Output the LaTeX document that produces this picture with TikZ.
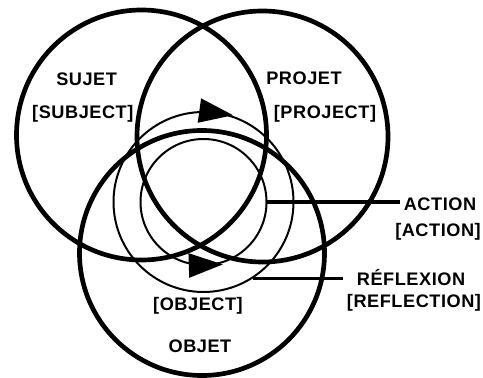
\documentclass[tikz,border=0pt]{standalone}
\usepackage{fontspec}
\usetikzlibrary{calc,decorations.markings}
\newfontfamily\cyclefont{Liberation Sans}[LetterSpace=3]
\tikzset{
  sphere/.style={
    circle,
    draw=black,
    line width=4pt,
    inner sep=0pt
  },
  ring/.style={
    circle,
    draw=black,
    line width=1.7pt,
    inner sep=0pt
  },
  ringtip/.style 2 args={
    postaction={decorate,decoration={markings,
      mark=at position #1 with {\fill[black]
        ({-0.5*#2},0.37) -- ({0.52*#2},0) -- ({-0.5*#2},-0.37) -- cycle;}}}
  },
  term/.style={
    font=\cyclefont\bfseries\fontsize{15.5}{18}\selectfont,
    text=black,
    inner sep=0.1cm,
    text height=0.39cm,
    text depth=0pt
  },
  leader/.style={
    draw=black,
    line width=2.8pt
  }
}

\begin{document}
\begin{tikzpicture}[x=1cm,y=1cm]
  \useasboundingbox (0,0) rectangle (14.49,11.31);
  \coordinate (S) at (4.245,7.26);
  \coordinate (P) at (7.875,7.215);
  \coordinate (O) at (6.06,3.72);
  \coordinate (C) at (6.105,5.25);

  % The three large circles overlap round one centre.
  \node[sphere,minimum size=7.5cm] (sujet) at (S) {};
  \node[sphere,minimum size=7.53cm] (projet) at (P) {};
  \node[sphere,minimum size=7.35cm] (objet) at (O) {};

  % Two concentric cycles, each with its own direction.
  \node[ring,minimum size=5.4cm,ringtip={0.228}{-1}] (reflexion-ring) at (C) {};
  \node[ring,minimum size=3.78cm,ringtip={0.755}{1}] (action-ring) at (C) {};

  % Circle names with their translations.
  \node[term] (sujet-fr) at (2.60,8.925) {SUJET};
  \node[term] (sujet-en) at (2.485,7.935) {[SUBJECT]};
  \node[term] (projet-fr) at (9.12,8.97) {PROJET};
  \node[term] (projet-en) at (9.75,7.935) {[PROJECT]};
  \node[term] (objet-en) at (5.94,2.19) {[OBJECT]};
  \node[term] (objet-fr) at (6.0,0.93) {OBJET};

  % Cycle names on the right.
  \node[term] (action-fr) at (13.2,5.19) {ACTION};
  \node[term] (action-en) at (13.14,4.41) {[ACTION]};
  \node[term] (reflexion-fr) at (12.33,2.94) {RÉFLEXION};
  \node[term] (reflexion-en) at (12.42,2.28) {[REFLECTION]};

  \draw[leader] (action-ring.east) -- (action-ring.east -| action-fr.west);
  \draw[leader,shorten >=0.32cm]
    (reflexion-ring.-57.6) -- (reflexion-ring.-57.6 -| reflexion-fr.west);
\end{tikzpicture}
\end{document}
